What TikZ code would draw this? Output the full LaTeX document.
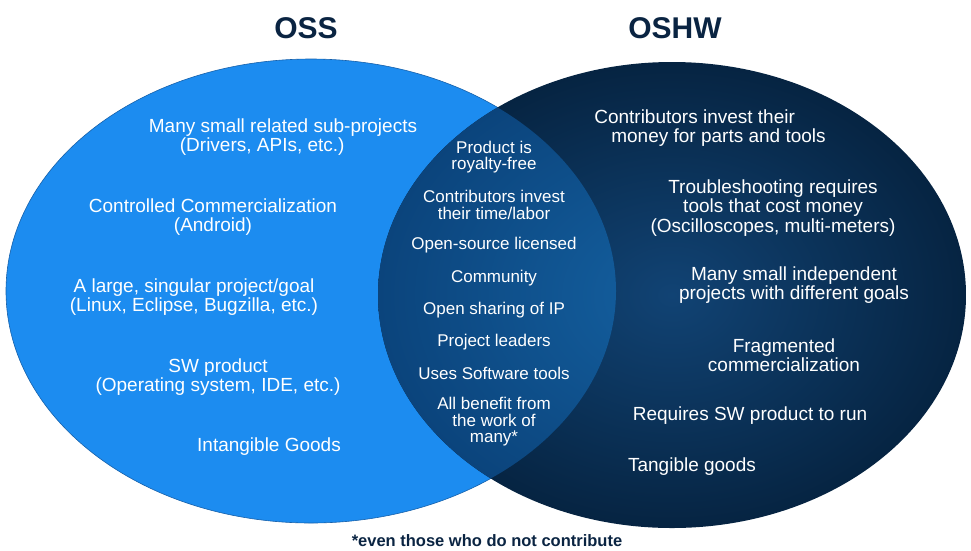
\documentclass[tikz,border=0pt]{standalone}
\usepackage{fontspec}
\setmainfont{Liberation Sans}
\usepackage{tikz}

\definecolor{ossblue}{RGB}{28,140,240}
\definecolor{ossedge}{RGB}{22,96,170}
\definecolor{oshwin}{RGB}{17,67,116}
\definecolor{oshwout}{RGB}{6,36,66}
\definecolor{bothin}{RGB}{20,96,160}
\definecolor{bothout}{RGB}{11,68,124}
\definecolor{titlecol}{RGB}{10,36,66}

\begin{document}
\begin{tikzpicture}
 		[x=1pt, y=-1pt,
 		every node/.style={inner sep=0pt, align=center},
 		heading/.style={text=titlecol, font=\fontsize{30}{30}\selectfont\bfseries},
 		side/.style={text=white, font=\fontsize{19}{19.5}\selectfont},
 		both/.style={text=white, font=\fontsize{17}{16.5}\selectfont},
 		note/.style={text=titlecol, font=\fontsize{16.5}{16.5}\selectfont\bfseries},
 		]
 		\useasboundingbox (0,0) rectangle (971,550);
 		
 		% the two sets
 		\fill[ossblue, draw=ossedge, line width=0.6pt] (311,291) ellipse (305 and 232);
 		\shade[inner color=oshwin, outer color=oshwout] (672,295) ellipse (294 and 233);
 		\begin{scope}
 			\clip (311,291) ellipse (305 and 232);
 			\shade[inner color=bothin, outer color=bothout] (672,295) ellipse (294 and 233);
 		\end{scope}
 		
 		\node[heading] (oss) at (306,28) {OSS};
 		\node[heading] (oshw) at (675,28) {OSHW};
 		
 		% OSS only
 		\node[side, align=left] (subproj) at (283,137)
 			{Many small related sub-projects\\\hspace*{31pt}(Drivers, APIs, etc.)};
 		\node[side] (ctrl) at (213,217) {Controlled Commercialization\\(Android)};
 		\node[side] (single) at (194,297) {A large, singular project/goal\\(Linux, Eclipse, Bugzilla, etc.)};
 		\node[side] (swprod) at (218,377) {SW product\\(Operating system, IDE, etc.)};
 		\node[side] (intang) at (269,447) {Intangible Goods};
 		
 		% shared
 		\node[both] (royalty) at (494,157) {Product is\\royalty-free};
 		\node[both] (labor) at (494,205) {Contributors invest\\their time/labor};
 		\node[both] (licensed) at (494,245) {Open-source licensed};
 		\node[both] (community) at (494,278) {Community};
 		\node[both] (sharing) at (494,310) {Open sharing of IP};
 		\node[both] (leaders) at (494,342) {Project leaders};
 		\node[both] (swtools) at (494,373) {Uses Software tools};
 		\node[both] (benefit) at (494,422) {All benefit from\\the work of\\many*};
 		
 		% OSHW only
 		\node[side, align=left] (money) at (710,128)
 			{Contributors invest their\\\hspace*{17pt}money for parts and tools};
 		\node[side] (trouble) at (773,208) {Troubleshooting requires\\tools that cost money\\(Oscilloscopes, multi-meters)};
 		\node[side] (indep) at (794,285) {Many small independent\\projects with different goals};
 		\node[side] (frag) at (784,355) {Fragmented\\commercialization};
 		\node[side] (needsw) at (750,416) {Requires SW product to run};
 		\node[side] (tang) at (692,467) {Tangible goods};
 		
 		\node[note] (footnote) at (487,541) {*even those who do not contribute};
 		
 	\end{tikzpicture}
\end{document}
